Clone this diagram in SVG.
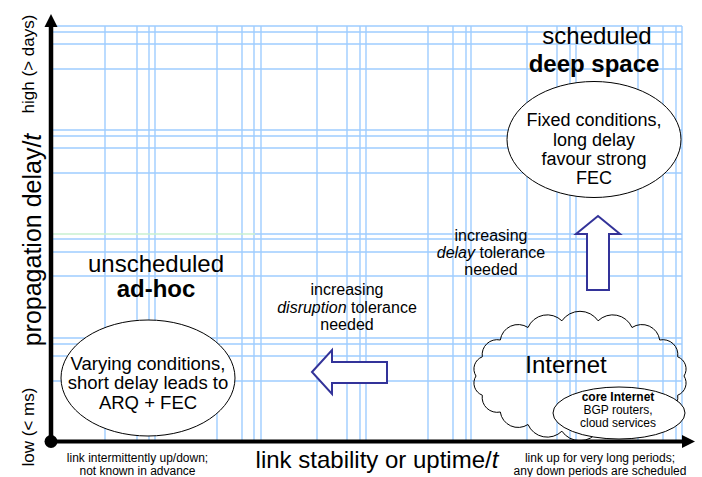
<svg xmlns="http://www.w3.org/2000/svg" width="702" height="477" viewBox="0 0 702 477">
<style>
.grid{stroke:#9fcdff;stroke-width:1.4;fill:none}
.gridg{stroke:#c8f0d0;stroke-width:1.4;fill:none}
.t{font-family:"Liberation Sans",Arial,Helvetica,sans-serif;fill:#000;text-anchor:middle}
.node{fill:#fff;stroke:#000;stroke-width:1}
.barrow{fill:#fff;stroke:#333399;stroke-width:2;stroke-linejoin:miter}
</style>
<rect width="702" height="477" fill="#fff"/>
<g id="grid">
<path class="grid" d="M105 26V440M137 26V440M149 26V440M155 26V440M217 26V440M242 26V440M254 26V440M261 26V440M317 26V440M347 26V440M360 26V440M366 26V440M428 26V440M453 26V440M466 26V440M471 26V440M527 26V440M557 26V440M570 26V440M576 26V440M638 26V440M663 26V440M676 26V440M682 26V440"/>
<path class="grid" d="M52 26H682M52 32H682M52 44H682M52 69H682M52 130H682M52 136H682M52 148H682M52 173H682M255 234H682M52 239H682M52 252H682M52 276H682M52 338H682M52 344H682M52 356H682M52 381H682"/>
<path class="gridg" d="M52 234H255"/>
</g>
<g id="axes">
<line x1="51" y1="442" x2="51" y2="24" stroke="#000" stroke-width="4.5"/>
<polygon points="51,14 57.5,27 44.5,27" fill="#000"/>
<line x1="51" y1="441.5" x2="684" y2="441.5" stroke="#000" stroke-width="4"/>
<polygon points="695,441.5 682,435 682,448" fill="#000"/>
<circle cx="51" cy="441.5" r="6.5" fill="#000"/>
</g>
<g id="axis-labels">
<text class="t" font-size="25" transform="translate(41,240) rotate(-90)">propagation delay/<tspan font-style="italic">t</tspan></text>
<text class="t" font-size="17" transform="translate(34,64) rotate(-90)">high (&gt; days)</text>
<text class="t" font-size="17" transform="translate(34,427) rotate(-90)">low (&lt; ms)</text>
<text class="t" font-size="24" x="377" y="468">link stability or uptime/<tspan font-style="italic">t</tspan></text>
<text class="t" font-size="12" x="137.5" y="461.5">link intermittently up/down;</text>
<text class="t" font-size="12" x="137.5" y="474.5">not known in advance</text>
<text class="t" font-size="12" x="600" y="461.5">link up for very long periods;</text>
<text class="t" font-size="12" x="600" y="474.5">any down periods are scheduled</text>
</g>
<g id="deep-space">
<text class="t" font-size="24" x="597" y="44">scheduled</text>
<text class="t" font-size="24" font-weight="bold" x="594" y="72">deep space</text>
<ellipse class="node" cx="594" cy="139.5" rx="87" ry="58"/>
<text class="t" font-size="18" x="594" y="126">Fixed conditions,</text>
<text class="t" font-size="18" x="594" y="146">long delay</text>
<text class="t" font-size="18" x="594" y="165">favour strong</text>
<text class="t" font-size="18" x="594" y="184">FEC</text>
</g>
<g id="ad-hoc">
<text class="t" font-size="24" x="156" y="272">unscheduled</text>
<text class="t" font-size="24" font-weight="bold" x="156" y="297">ad-hoc</text>
<ellipse class="node" cx="148" cy="378" rx="87" ry="58"/>
<text class="t" font-size="18.5" x="148" y="370">Varying conditions,</text>
<text class="t" font-size="18.5" x="148" y="389">short delay leads to</text>
<text class="t" font-size="18.5" x="148" y="409">ARQ + FEC</text>
</g>
<g id="internet">
<path fill="none" stroke="#000" stroke-width="1" d="M684 376A13 13 0 0 1 677.7 395.2A15 15 0 0 1 659.7 412A18 18 0 0 1 632 424.5A21 21 0 0 1 598.1 431.2A22 22 0 0 1 561.9 431.2A21 21 0 0 1 528 424.5A18 18 0 0 1 500.3 412A15 15 0 0 1 482.3 395.2A13 13 0 0 1 476 376A13 13 0 0 1 482.3 356.8A15 15 0 0 1 500.3 340A18 18 0 0 1 528 327.5A21 21 0 0 1 561.9 320.8A22 22 0 0 1 598.1 320.8A21 21 0 0 1 632 327.5A18 18 0 0 1 659.7 340A15 15 0 0 1 677.7 356.8A13 13 0 0 1 684 376Z"/>
<text class="t" font-size="24" x="566" y="373">Internet</text>
</g>
<g id="core-internet">
<ellipse class="node" cx="619" cy="413" rx="66" ry="26"/>
<text class="t" font-size="12" font-weight="bold" x="618" y="401">core Internet</text>
<text class="t" font-size="12" x="618" y="414">BGP routers,</text>
<text class="t" font-size="12" x="618" y="427">cloud services</text>
</g>
<g id="connectors">
<polygon class="barrow" points="598,216 620,234 609,234 609,290 587,290 587,234 576,234"/>
<polygon class="barrow" points="312,372 332,350 332,362 387,362 387,383 332,383 332,394"/>
</g>
<g id="arrow-labels">
<text class="t" font-size="16" x="491" y="241">increasing</text>
<text class="t" font-size="16" x="491" y="258"><tspan font-style="italic">delay</tspan> tolerance</text>
<text class="t" font-size="16" x="491" y="275">needed</text>
<text class="t" font-size="16" x="347" y="295">increasing</text>
<text class="t" font-size="16" x="347" y="313"><tspan font-style="italic">disruption</tspan> tolerance</text>
<text class="t" font-size="16" x="347" y="330">needed</text>
</g>
</svg>
